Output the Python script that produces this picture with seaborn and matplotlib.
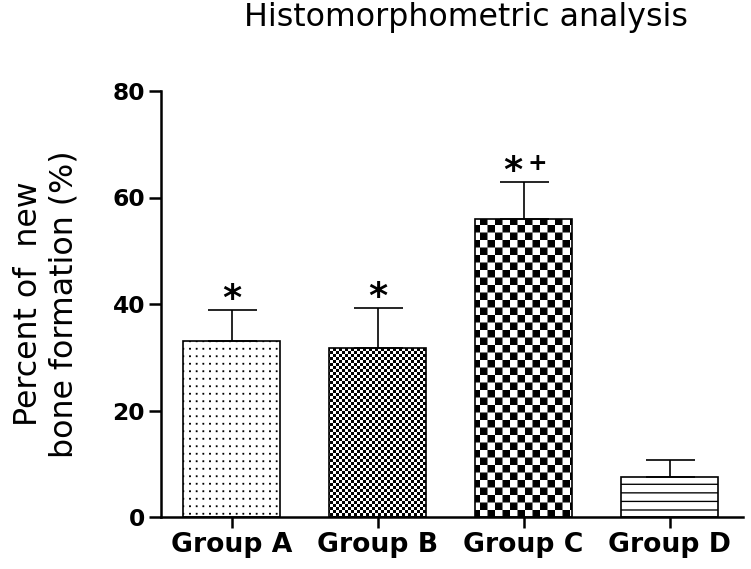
import warnings
warnings.filterwarnings("ignore")
import numpy as np
import pandas as pd
import matplotlib
matplotlib.use("Agg")
import matplotlib.pyplot as plt
import matplotlib.hatch as mhatch
from matplotlib.path import Path
import seaborn as sns

# ---------------- data ----------------
groups = ["Group A", "Group B", "Group C", "Group D"]
means = [33.1, 31.7, 55.9, 7.45]
err_upper = [5.8, 7.5, 7.1, 3.25]
stars = ["*", "*", "*", ""]
plus_marks = ["", "", "+", ""]
y_ticks = [0, 20, 40, 60, 80]
hatches = [".", "o", "O", "-"]

DPI = 120
W, H = 751, 569

# ---------------- custom hatch textures ----------------
HATCH_LW_PT = 0.8
lw_tile = HATCH_LW_PT * DPI / 72.0 / DPI  # stroke width in tile units (tile = 1 inch)


class _TileHatch(mhatch.HatchPatternBase):
    key = None

    def __init__(self, hatch, density):
        self._on = bool(hatch) and (self.key in hatch)
        if self._on:
            self._v, self._c = self.build()
            self.num_vertices = len(self._v)
        else:
            self.num_vertices = 0

    def set_vertices_and_codes(self, vertices, codes):
        vertices[:] = self._v
        codes[:] = self._c


def _squares(rects):
    v, c = [], []
    for x0, y0, x1, y1 in rects:
        v += [(x0, y0), (x1, y0), (x1, y1), (x0, y1), (x0, y0)]
        c += [Path.MOVETO, Path.LINETO, Path.LINETO, Path.LINETO, Path.CLOSEPOLY]
    return np.array(v, float), np.array(c, Path.code_type)


def _checker(n):
    cell = 1.0 / n
    s = max(cell - lw_tile, 1e-4) / 2
    rects = []
    for i in range(n):
        for j in range(n):
            if (i + j) % 2 == 0:
                cx, cy = (i + 0.5) * cell, (j + 0.5) * cell
                rects.append((cx - s, cy - s, cx + s, cy + s))
    return _squares(rects)


class FineChecker(_TileHatch):
    key = "o"
    def build(self):
        return _checker(40)


class CoarseChecker(_TileHatch):
    key = "O"
    def build(self):
        return _checker(16)


class Dots(_TileHatch):
    key = "."
    def build(self):
        nx, ny = 18, 16
        s = 0.002
        rects = []
        for i in range(nx):
            for j in range(ny):
                cx, cy = (i + 0.5) / nx, (j + 0.5) / ny
                rects.append((cx - s, cy - s, cx + s, cy + s))
        return _squares(rects)


class HLines(_TileHatch):
    key = "-"
    def build(self):
        n = 14
        v, c = [], []
        for j in range(n):
            y = (j + 0.5) / n
            v += [(0.0, y), (1.0, y)]
            c += [Path.MOVETO, Path.LINETO]
        return np.array(v, float), np.array(c, Path.code_type)


mhatch._hatch_types[:] = [Dots, FineChecker, CoarseChecker, HLines]

# ---------------- style ----------------
sns.set_style("ticks")
plt.rcParams["font.family"] = ["DejaVu Sans"]
plt.rcParams["hatch.linewidth"] = HATCH_LW_PT
plt.rcParams["hatch.color"] = "black"
for k in ["text.color", "axes.labelcolor", "xtick.color", "ytick.color", "axes.edgecolor"]:
    plt.rcParams[k] = "black"

df = pd.DataFrame({"group": groups, "value": means})

fig = plt.figure(figsize=(W / DPI, H / DPI), dpi=DPI)
ax = fig.add_axes([161 / W, 1 - 517 / H, (743 - 161) / W, (517 - 91) / H])

sns.barplot(data=df, x="group", y="value", color="white", saturation=1,
            edgecolor="black", linewidth=1.0, width=0.664, errorbar=None, ax=ax)
for patch, h in zip(ax.patches, hatches):
    patch.set_hatch(h)

x_pos = np.arange(len(groups))
ax.errorbar(x_pos, means, yerr=[np.zeros(len(means)), err_upper], fmt="none",
            ecolor="black", elinewidth=1.0, capsize=14.7, capthick=1.0, zorder=5)

tops = np.array(means) + np.array(err_upper)
for i in range(len(groups)):
    if not stars[i]:
        continue
    dx = -6.3 if plus_marks[i] else 0.0
    ax.annotate(stars[i], (x_pos[i], tops[i]), xytext=(dx, 0.0), textcoords="offset points",
                ha="center", va="baseline", fontsize=22, fontweight="bold")
    if plus_marks[i]:
        ax.annotate(plus_marks[i], (x_pos[i], tops[i]), xytext=(8.0, 7.0), textcoords="offset points",
                    ha="center", va="baseline", fontsize=14, fontweight="bold")

ax.set_xlim(-0.483, 3.503)
ax.set_ylim(0, 80)
ax.set_yticks(y_ticks)
ax.set_xlabel("")
ax.set_ylabel("Percent of  new\nbone formation (%)", fontsize=19)
ax.yaxis.set_label_coords((80 - 161) / (743 - 161), 0.5)

for s in ["top", "right"]:
    ax.spines[s].set_visible(False)
for s in ["left", "bottom"]:
    ax.spines[s].set_linewidth(1.5)
ax.tick_params(axis="y", length=7.2, width=1.5, pad=2.4, labelsize=14)
ax.tick_params(axis="x", length=6.6, width=1.5, pad=2.5, labelsize=16)
for lab in ax.get_xticklabels() + ax.get_yticklabels():
    lab.set_fontweight("bold")

fig.text(466 / W, 1 - 26 / H, "Histomorphometric analysis", ha="center", va="baseline", fontsize=19)

fig.savefig("out.png", dpi=DPI)
